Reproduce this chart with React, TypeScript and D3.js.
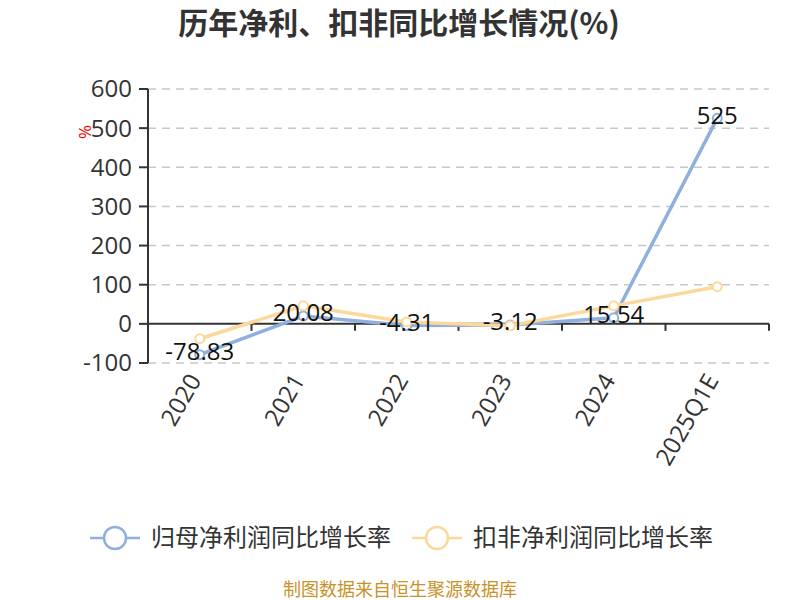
import React from "react";
import * as d3 from "d3";

const categories = ["2020", "2021", "2022", "2023", "2024", "2025Q1E"];
const netProfitGrowth = [-78.83, 20.08, -4.31, -3.12, 15.54, 525];
const deductedGrowth = [-38, 46, 5, -5, 46, 95];
const yTicks = [-100, 0, 100, 200, 300, 400, 500, 600];
const seriesNames = ["归母净利润同比增长率", "扣非净利润同比增长率"];
const seriesColors = ["#8fb0dd", "#fdd89b"];

const W = 800;
const H = 600;
const left = 148;
const right = 769;
const top = 89;
const bottom = 363;
const font = "'Open Sans', 'Noto Sans CJK SC', sans-serif";

export default function App() {
  const x = d3.scaleBand<string>().domain(categories).range([left, right]);
  const y = d3.scaleLinear().domain([-100, 600]).range([bottom, top]);
  const cx = (c: string) => (x(c) as number) + x.bandwidth() / 2;
  const line = d3
    .line<number>()
    .x((_, i) => cx(categories[i]))
    .y((d) => y(d));
  const series = [netProfitGrowth, deductedGrowth];
  const y0 = y(0);
  const boundaries = categories.map((c) => x(c) as number).concat([right]);

  return (
    <svg
      width={W}
      height={H}
      style={{ position: "absolute", left: 0, top: 0, background: "#fff" }}
      fontFamily={font}
    >
      <text
        x={399}
        y={34}
        textAnchor="middle"
        fontSize={30}
        fontWeight="bold"
        fill="#333"
        fontFamily="'Noto Sans CJK SC', sans-serif"
      >
        历年净利、扣非同比增长情况(%)
      </text>

      {yTicks.map((t) => (
        <g key={t}>
          {t !== 0 && (
            <line
              x1={left}
              x2={right}
              y1={y(t)}
              y2={y(t)}
              stroke="#c8c8c8"
              strokeWidth={1.5}
              strokeDasharray="8,6"
            />
          )}
          <line x1={left - 9} x2={left} y1={y(t)} y2={y(t)} stroke="#333" strokeWidth={2} />
          <text
            x={132}
            y={y(t)}
            dy="0.35em"
            textAnchor="end"
            fontSize={24}
            fill="#333"
          >
            {t}
          </text>
        </g>
      ))}
      <line x1={left} x2={left} y1={top} y2={bottom} stroke="#333" strokeWidth={2} />
      <line x1={left} x2={right} y1={y0} y2={y0} stroke="#333" strokeWidth={2} />
      {boundaries.map((b, i) => (
        <line key={i} x1={b} x2={b} y1={y0} y2={y0 + 7} stroke="#333" strokeWidth={2} />
      ))}
      <text
        x={85}
        y={132}
        fontSize={17}
        fill="#e00"
        textAnchor="middle"
        dy="0.35em"
        transform="rotate(-90 85 132)"
      >
        %
      </text>

      {categories.map((c) => (
        <text
          key={c}
          x={cx(c) - 5}
          y={376}
          textAnchor="end"
          dy="0.35em"
          fontSize={24}
          fill="#333"
          transform={`rotate(-60 ${cx(c) - 5} 376)`}
        >
          {c}
        </text>
      ))}

      {series.map((s, si) => (
        <g key={si}>
          <path d={line(s) || ""} fill="none" stroke={seriesColors[si]} strokeWidth={3.5} />
          {s.map((v, i) => (
            <circle
              key={i}
              cx={cx(categories[i])}
              cy={y(v)}
              r={4.5}
              fill="#fff"
              stroke={seriesColors[si]}
              strokeWidth={2}
            />
          ))}
        </g>
      ))}

      {netProfitGrowth.map((v, i) => (
        <text
          key={i}
          x={cx(categories[i])}
          y={y(v) - 3}
          dy="0.35em"
          textAnchor="middle"
          fontSize={24}
          fill="#111"
        >
          {v}
        </text>
      ))}

      {seriesNames.map((n, i) => {
        const lx = i === 0 ? 90 : 412;
        return (
          <g key={n}>
            <line x1={lx} x2={lx + 50} y1={538} y2={538} stroke={seriesColors[i]} strokeWidth={2.5} />
            <circle cx={lx + 25} cy={538} r={11} fill="#fff" stroke={seriesColors[i]} strokeWidth={2.5} />
            <text
              x={lx + 61}
              y={538}
              dy="0.35em"
              fontSize={24}
              fill="#333"
              fontFamily="'Noto Sans CJK SC', sans-serif"
            >
              {n}
            </text>
          </g>
        );
      })}

      <text
        x={400}
        y={596}
        textAnchor="middle"
        fontSize={18}
        fill="#c8922a"
        fontFamily="'Noto Sans CJK SC', sans-serif"
      >
        制图数据来自恒生聚源数据库
      </text>
    </svg>
  );
}
